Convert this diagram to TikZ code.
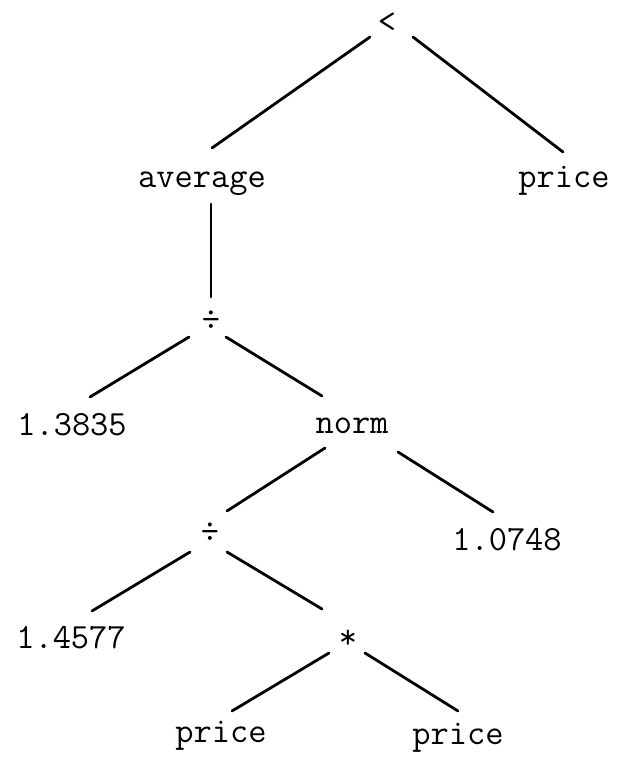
\documentclass[tikz,border=0pt]{standalone}
\usepackage{fontspec}
\usetikzlibrary{calc}
\tikzset{
  lbl/.style={inner sep=0pt, anchor=base, font=\ttfamily\addfontfeature{FakeBold=1.2}\fontsize{35.4}{40}\selectfont},
  edge/.style={line width=2.8pt, line cap=round}
}
\begin{document}
\begin{tikzpicture}[x=1pt, y=-1pt]
\useasboundingbox (0,0) rectangle (619,758);
\node[lbl] (lt)   at (387,32)  {<};
\node[lbl] (avg)  at (202,187) {average};
\node[lbl] (ptop) at (564,187) {price};
\node[lbl] (div1) at (211,330) {÷};
\node[lbl] (n1)   at (72,435)  {1.3835};
\node[lbl] (norm) at (352,433) {norm};
\node[lbl] (div2) at (210,542) {÷};
\node[lbl] (n2)   at (507,550) {1.0748};
\node[lbl] (n3)   at (71,648)  {1.4577};
\node[lbl] (star) at (348,648) {*};
\node[lbl] (p1)   at (221,742) {price};
\node[lbl] (p2)   at (458,744) {price};

\draw[edge] ($(lt.base)+(-17,5)$) -- ($(avg.base)+(10,-39)$);
\draw[edge] ($(lt.base)+(26,5)$) -- ($(ptop.base)+(-1,-35)$);
\draw[edge] ($(avg.base)+(9,17)$) -- ($(div1.base)+(0,-33)$);
\draw[edge] ($(div1.base)+(-22,7)$) -- ($(n1.base)+(18,-38)$);
\draw[edge] ($(div1.base)+(15,7)$) -- ($(norm.base)+(-30,-37)$);
\draw[edge] ($(norm.base)+(-27,15)$) -- ($(div2.base)+(17,-31)$);
\draw[edge] ($(norm.base)+(46,19)$) -- ($(n2.base)+(-14,-38)$);
\draw[edge] ($(div2.base)+(-20,10)$) -- ($(n3.base)+(21,-37)$);
\draw[edge] ($(div2.base)+(17,10)$) -- ($(star.base)+(-26,-39)$);
\draw[edge] ($(star.base)+(-19,5)$) -- ($(p1.base)+(11,-31)$);
\draw[edge] ($(star.base)+(17,5)$) -- ($(p2.base)+(0,-33)$);
\end{tikzpicture}
\end{document}
